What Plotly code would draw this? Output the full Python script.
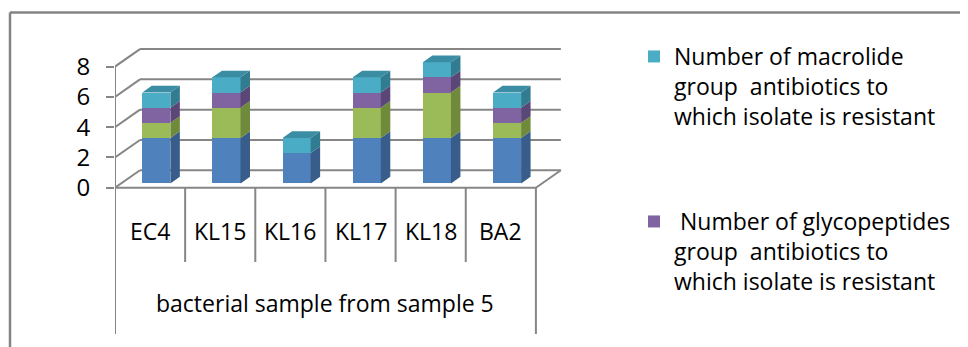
import plotly.graph_objects as go

# ---------------- data ----------------
categories = ["EC4", "KL15", "KL16", "KL17", "KL18", "BA2"]
group_title = "bacterial sample from sample 5"
y_ticks = [0, 2, 4, 6, 8]

series1_name = "Series 1"
series1_vals = [3, 3, 2, 3, 3, 3]          # blue
series2_name = "Series 2"
series2_vals = [1, 2, 0, 2, 3, 1]          # green
series3_name = "\u00a0Number of glycopeptides<br>group\u00a0 antibiotics to<br>which isolate is resistant"
series3_vals = [1, 1, 0, 1, 1, 1]          # purple
series4_name = "Number of macrolide<br>group\u00a0 antibiotics to<br>which isolate is resistant"
series4_vals = [1, 1, 1, 1, 1, 1]          # cyan

# ---------------- style ----------------
FONT = "Open Sans"
GRID = "#868686"
DEPTH_X, DEPTH_Y = 0.356, 1.155      # floor depth (x units, y units)
BAR_FRONT, BAR_BACK = 0.25, 0.63     # bar position inside the depth
BAR_W = 0.40

series = [
    dict(name=series1_name, vals=series1_vals, front="#4F81BD", side="#385D8A", top="#4472A8", legend=False),
    dict(name=series2_name, vals=series2_vals, front="#9BBB59", side="#6E8A3A", top="#87A64B", legend=False),
    dict(name=series3_name, vals=series3_vals, front="#8064A2", side="#5B4777", top="#6E558E", legend=True, lg="legend2"),
    dict(name=series4_name, vals=series4_vals, front="#4BACC6", side="#317C90", top="#3A8DA3", legend=True, lg="legend"),
]

n = len(categories)
xs = list(range(n))
fx = BAR_FRONT * DEPTH_X
fy = BAR_FRONT * DEPTH_Y
bdx = (BAR_BACK - BAR_FRONT) * DEPTH_X
bdy = (BAR_BACK - BAR_FRONT) * DEPTH_Y

fig = go.Figure()

# ---------- walls / floor / axis decorations as shapes (below traces) ----------
shapes = []
line = dict(color=GRID, width=2)
x_left, x_right = -0.5, n - 0.5
for v in y_ticks:
    shapes.append(dict(type="line", xref="x", yref="y", layer="below",
                       x0=x_left + DEPTH_X, y0=v + DEPTH_Y, x1=x_right + DEPTH_X, y1=v + DEPTH_Y, line=line))
    shapes.append(dict(type="line", xref="x", yref="y", layer="below",
                       x0=x_left, y0=v, x1=x_left + DEPTH_X, y1=v + DEPTH_Y, line=line))
shapes.append(dict(type="line", xref="x", yref="y", layer="below",
                   x0=x_left, y0=0, x1=x_right, y1=0, line=line))
shapes.append(dict(type="line", xref="x", yref="y", layer="below",
                   x0=x_right, y0=0, x1=x_right + DEPTH_X, y1=DEPTH_Y, line=line))
shapes.append(dict(type="line", xref="x", yref="y", layer="below",
                   x0=x_left, y0=0, x1=x_left, y1=max(y_ticks), line=line))
LABEL_Y = -2.85
INNER_END = -4.9
OUTER_END = -9.65
for i in range(n + 1):
    xd = i - 0.5
    end = OUTER_END if i in (0, n) else INNER_END
    shapes.append(dict(type="line", xref="x", yref="y", layer="below",
                       x0=xd, y0=0, x1=xd, y1=end, line=line))
# outer chart frame
shapes.append(dict(type="line", xref="paper", yref="paper", x0=-0.2234, y0=1.0045, x1=2.0, y1=1.0045,
                   line=dict(color="#848484", width=2.5)))
shapes.append(dict(type="line", xref="paper", yref="paper", x0=-0.2234, y0=1.0045, x1=-0.2234, y1=-0.1,
                   line=dict(color="#848484", width=2.5)))

# ---------- bars: front faces ----------
cum = [0.0] * n
segs = []
for s in series:
    bases = [c + fy for c in cum]
    fig.add_trace(go.Bar(
        x=[x + fx for x in xs], y=s["vals"], base=bases, width=BAR_W,
        name=s["name"], marker=dict(color=s["front"], line=dict(width=0)),
        showlegend=s["legend"], legend=s.get("lg", "legend"),
        hoverinfo="skip",
    ))
    segs.append([(cum[i], cum[i] + s["vals"][i]) for i in range(n)])
    cum = [cum[i] + s["vals"][i] for i in range(n)]

# ---------- bars: side and top faces ----------
for si, s in enumerate(series):
    px, py = [], []
    for i in range(n):
        b, t = segs[si][i]
        if t <= b:
            continue
        xr = i + fx + BAR_W / 2
        yb, yt = b + fy, t + fy
        px += [xr, xr + bdx, xr + bdx, xr, xr, None]
        py += [yb, yb + bdy, yt + bdy, yt, yb, None]
    fig.add_trace(go.Scatter(x=px, y=py, mode="lines", fill="toself", fillcolor=s["side"],
                             line=dict(width=0, color=s["side"]), showlegend=False, hoverinfo="skip"))

for i in range(n):
    top_si = max(si for si in range(len(series)) if series[si]["vals"][i] > 0)
    T = cum[i] + fy
    xl = i + fx - BAR_W / 2
    xr = i + fx + BAR_W / 2
    fig.add_trace(go.Scatter(
        x=[xl, xl + bdx, xr + bdx, xr, xl], y=[T, T + bdy, T + bdy, T, T],
        mode="lines", fill="toself", fillcolor=series[top_si]["top"],
        line=dict(width=0, color=series[top_si]["top"]), showlegend=False, hoverinfo="skip"))

# ---------- text ----------
annotations = []
for i, c in enumerate(categories):
    annotations.append(dict(x=i, y=LABEL_Y, xref="x", yref="y", text=c, showarrow=False,
                            font=dict(family=FONT, size=23, color="#000000")))
annotations.append(dict(x=(n - 1) / 2, y=-7.6, xref="x", yref="y", text=group_title, showarrow=False,
                        font=dict(family=FONT, size=23, color="#000000")))

legend_common = dict(font=dict(family=FONT, size=23, color="#000000"), bgcolor="rgba(0,0,0,0)",
                     valign="top", xref="container", yref="container", xanchor="left", yanchor="top",
                     itemclick=False, itemdoubleclick=False)

fig.update_layout(
    width=968, height=347,
    margin=dict(l=107, r=391, t=6, b=8),
    paper_bgcolor="white", plot_bgcolor="white",
    barmode="overlay",
    bargap=0,
    showlegend=True,
    xaxis=dict(range=[-0.5, 6.2], visible=False, fixedrange=True),
    yaxis=dict(range=[-10.51, 11.47], tickvals=y_ticks, ticks="outside", ticklen=8,
               tickwidth=2, tickcolor=GRID, showgrid=False, zeroline=False, showline=False,
               tickfont=dict(family=FONT, size=24, color="#000000"), ticklabelstandoff=11,
               fixedrange=True),
    shapes=shapes,
    annotations=annotations,
    legend=dict(x=0.6467, y=1 - 27 / 347, **legend_common),
    legend2=dict(x=0.6467, y=1 - 192 / 347, **legend_common),
)

fig.write_html("out.html")
